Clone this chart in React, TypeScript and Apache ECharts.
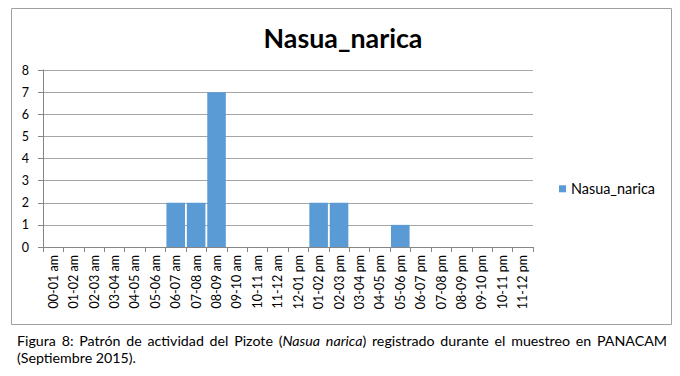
import React, { useEffect, useRef } from "react";
import * as echarts from "echarts";

const FONT = "Lato";

const categories = [
  "00-01 am", "01-02 am", "02-03 am", "03-04 am", "04-05 am", "05-06 am",
  "06-07 am", "07-08 am", "08-09 am", "09-10 am", "10-11 am", "11-12 am",
  "12-01 pm", "01-02 pm", "02-03 pm", "03-04 pm", "04-05 pm", "05-06 pm",
  "06-07 pm", "07-08 pm", "08-09 pm", "09-10 pm", "10-11 pm", "11-12 pm",
];
const values = [0, 0, 0, 0, 0, 0, 2, 2, 7, 0, 0, 0, 0, 2, 2, 0, 0, 1, 0, 0, 0, 0, 0, 0];
const seriesName = "Nasua_narica";
const titleText = "Nasua_narica";
const yMin = 0;
const yMax = 8;
const yInterval = 1;

// caption words: each word is a list of [text, italic]
const captionLine1: [string, boolean][][] = [
  [["Figura", false]],
  [["8:", false]],
  [["Patrón", false]],
  [["de", false]],
  [["actividad", false]],
  [["del", false]],
  [["Pizote", false]],
  [["(", false], ["Nasua", true]],
  [["narica", true], [")", false]],
  [["registrado", false]],
  [["durante", false]],
  [["el", false]],
  [["muestreo", false]],
  [["en", false]],
  [["PANACAM", false]],
];
const captionLine2 = "(Septiembre 2015).";

export default function App() {
  const ref = useRef<HTMLDivElement>(null);
  useEffect(() => {
    if (!ref.current) return;
    const canvas = document.createElement("canvas");
    const ctx = canvas.getContext("2d")!;
    const measure = (t: string, size: number, weight = "normal", style = "normal") => {
      ctx.font = `${style} ${weight} ${size}px ${FONT}`;
      return ctx.measureText(t).width;
    };
    const fit = (t: string, target: number, weight = "normal") => (target / measure(t, 100, weight)) * 100;

    const titleSize = fit(titleText, 159, "bold");
    const axisSize = fit("00-01 am", 53.5);
    const legendSize = fit(seriesName, 84);
    const capSize = fit(captionLine2, 119);

    // caption layout (justified first line)
    const capLeft = 17;
    const capRight = 667;
    const wordWidths = captionLine1.map((w) =>
      w.reduce((s, [t, it]) => s + measure(t, capSize, "normal", it ? "italic" : "normal"), 0)
    );
    const total = wordWidths.reduce((a, b) => a + b, 0);
    const gap = (capRight - capLeft - total) / (captionLine1.length - 1);
    const capElems: any[] = [];
    let cx = capLeft;
    captionLine1.forEach((w, i) => {
      let sx = cx;
      w.forEach(([t, it]) => {
        capElems.push({
          type: "text",
          x: sx,
          y: 340,
          silent: true,
          style: {
            text: t,
            fontSize: capSize,
            fontFamily: FONT,
            fontStyle: it ? "italic" : "normal",
            fill: "#000",
            align: "left",
            verticalAlign: "middle",
            textAlign: "left",
            textVerticalAlign: "middle",
          },
        });
        sx += measure(t, capSize, "normal", it ? "italic" : "normal");
      });
      cx += wordWidths[i] + gap;
    });
    capElems.push({
      type: "text",
      x: capLeft,
      y: 357.5,
      silent: true,
      style: {
        text: captionLine2,
        fontSize: capSize,
        fontFamily: FONT,
        fill: "#000",
        align: "left",
        verticalAlign: "middle",
        textAlign: "left",
        textVerticalAlign: "middle",
      },
    });

    const chart = echarts.init(ref.current, undefined, { renderer: "svg" });
    chart.setOption({
      animation: false,
      title: {
        text: titleText,
        left: 343,
        top: 38.3 - titleSize / 2,
        textAlign: "center",
        padding: 0,
        textStyle: { fontSize: titleSize, fontWeight: "bold", fontFamily: FONT, color: "#000" },
      },
      legend: {
        data: [seriesName],
        left: 559,
        top: 189 - legendSize / 2,
        padding: 0,
        itemWidth: 7,
        itemHeight: 7,
        icon: "rect",
        textStyle: { fontSize: legendSize, fontFamily: FONT, color: "#000" },
      },
      grid: { left: 43, top: 70, width: 490, height: 177, outerBoundsMode: "none", containLabel: false },
      xAxis: {
        type: "category",
        data: categories,
        boundaryGap: true,
        axisLine: { show: true, lineStyle: { color: "#868686", width: 1 } },
        axisTick: { show: true, length: 5, alignWithLabel: false, lineStyle: { color: "#868686" } },
        axisLabel: { interval: 0, rotate: 90, margin: 8, fontSize: axisSize, fontFamily: FONT, color: "#000" },
        splitLine: { show: false },
      },
      yAxis: {
        type: "value",
        min: yMin,
        max: yMax,
        interval: yInterval,
        axisLine: { show: true, lineStyle: { color: "#868686", width: 1 } },
        axisTick: { show: true, length: 5, lineStyle: { color: "#868686" } },
        axisLabel: { margin: 14, fontSize: axisSize, fontFamily: FONT, color: "#000" },
        splitLine: { show: true, lineStyle: { color: "#a6a6a6", width: 1 } },
      },
      series: [
        {
          type: "bar",
          name: seriesName,
          data: values,
          barCategoryGap: "9%",
          itemStyle: { color: "#5b9bd5" },
        },
      ],
      graphic: [
        {
          type: "rect",
          silent: true,
          shape: { x: 11.5, y: 8.5, width: 660, height: 316 },
          style: { fill: "none", stroke: "#a0a0a0", lineWidth: 1 },
        },
        ...capElems,
      ],
    });
    return () => chart.dispose();
  }, []);
  return (
    <div
      ref={ref}
      style={{ position: "absolute", left: 0, top: 0, width: 680, height: 376, background: "#fff" }}
    />
  );
}
